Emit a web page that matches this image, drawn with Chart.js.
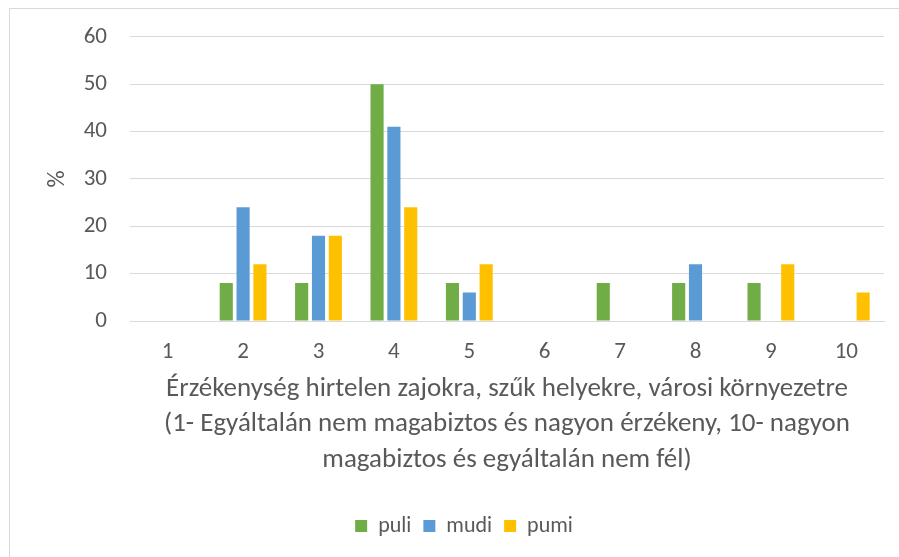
<!DOCTYPE html>
<html>
<head>
<meta charset="utf-8">
<script src="https://cdn.jsdelivr.net/npm/chart.js@4"></script>
<style>
	html, body { margin: 0; padding: 0; background: #fff; }
	#wrap { position: absolute; left: 0; top: 0; width: 899px; height: 557px; }
	#frame { position: absolute; left: 9px; top: 8px; width: 900px; height: 560px; border: 1px solid #d9d9d9; box-sizing: border-box; }
</style>
</head>
<body>
<div id="frame"></div>
<div id="wrap"><canvas id="chart" width="899" height="557"></canvas></div>
<script>
// adatok
var categories = ["1", "2", "3", "4", "5", "6", "7", "8", "9", "10"];
var puli = [0, 8, 8, 50, 8, 0, 8, 8, 8, 0];
var mudi = [0, 24, 18, 41, 6, 0, 0, 12, 0, 0];
var pumi = [0, 12, 18, 24, 12, 0, 0, 0, 12, 6];
var yTicks = [0, 10, 20, 30, 40, 50, 60];
var xTitle = [
	"Érzékenység hirtelen zajokra, szűk helyekre, városi környezetre",
	"(1- Egyáltalán nem magabiztos és nagyon érzékeny, 10- nagyon",
	"magabiztos és egyáltalán nem fél)"
];

var font = "Carlito, Calibri, 'Liberation Sans Narrow', 'Noto Sans', sans-serif";
var textColor = "#595959";

function bar(label, data, color) {
	return {
		label: label,
		data: data,
		backgroundColor: color,
		borderWidth: 0,
		categoryPercentage: 0.67,
		barPercentage: 0.78
	};
}

const ctx = document.getElementById('chart').getContext('2d');
const myChart = new Chart(ctx, {
	type: 'bar',
	data: {
		labels: categories,
		datasets: [
			bar('puli', puli, '#70ad47'),
			bar('mudi', mudi, '#5b9bd5'),
			bar('pumi', pumi, '#ffc000')
		]
	},
	options: {
		responsive: false,
		animation: false,
		layout: { padding: { left: 44, right: 15, top: 30, bottom: 10 } },
		plugins: {
			legend: {
				position: 'bottom',
				labels: {
					usePointStyle: true,
					pointStyle: 'rect',
					boxWidth: 12,
					boxHeight: 12,
					padding: 12,
					color: textColor,
					font: { family: font, size: 22 }
				}
			},
			tooltip: { enabled: false }
		},
		scales: {
			x: {
				afterFit: function (axis) {
					axis.height = 182;
				},
				grid: { display: false, drawTicks: false },
				border: { display: true, color: '#d9d9d9', width: 1 },
				ticks: { color: textColor, font: { family: font, size: 23 }, padding: 17 },
				title: {
					display: true,
					text: xTitle,
					color: textColor,
					font: { family: font, size: 27, lineHeight: 1.315 },
					padding: { top: 0, bottom: 25 }
				}
			},
			y: {
				min: 0,
				max: 60,
				afterBuildTicks: function (axis) {
					axis.ticks = yTicks.map(v => ({ value: v }));
				},
				afterFit: function (axis) {
					axis.width = 86;
				},
				grid: { color: '#d9d9d9', lineWidth: 1, drawTicks: false },
				border: { display: false },
				ticks: { color: textColor, font: { family: font, size: 23 }, padding: 23 },
				title: {
					display: true,
					text: '%',
					color: textColor,
					font: { family: font, size: 24 },
					padding: { top: 0, bottom: 0 }
				}
			}
		}
	}
});
</script>
</body>
</html>
